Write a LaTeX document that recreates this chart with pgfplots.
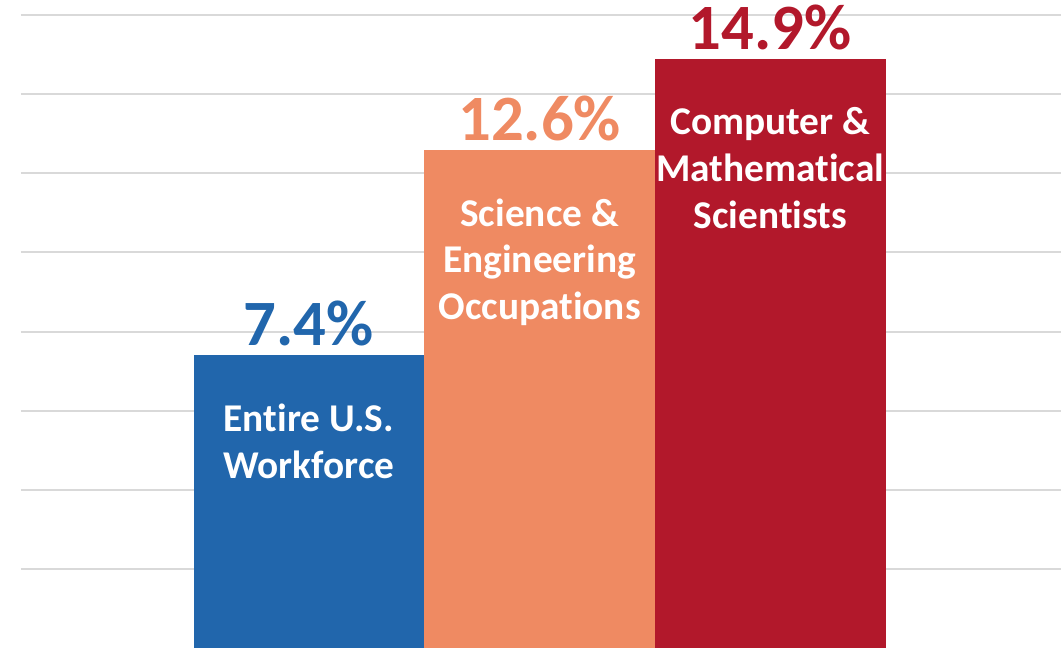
\documentclass[border=0pt]{standalone}
\usepackage{fontspec}
\setmainfont{Carlito}[Ligatures=NoCommon]
\usepackage{pgfplots}
\pgfplotsset{compat=1.18}
\definecolor{cblue}{RGB}{33,102,172}
\definecolor{csalmon}{RGB}{239,138,98}
\definecolor{cred}{RGB}{178,24,43}
\definecolor{cgrid}{RGB}{217,217,217}
\pgfplotsset{
  vallabel/.style={
    nodes near coords={\pgfmathprintnumber[fixed,precision=1,fixed zerofill,assume math mode=true]{\pgfplotspointmeta}\%},
    every node near coord/.append style={font=\fontsize{48.5}{58}\selectfont\bfseries, text=#1, anchor=base, yshift=7pt, inner sep=0pt}},
  inlabel/.style={draw=none, fill=none,
    every node near coord/.append style={font=\fontsize{29.5}{35.2}\selectfont\bfseries, text=white, align=center, anchor=north, yshift=-36.5pt, inner sep=0pt}},
}
\begin{document}
\begin{tikzpicture}
\begin{axis}[
  at={(0,0)}, anchor=south west,
  scale only axis, width=780pt, height=486pt,
  xmin=-1.248, xmax=3.26, ymin=0, ymax=16.38,
  ytick={2,4,...,16}, yticklabels={}, xtick=\empty,
  ymajorgrids, grid style={cgrid, line width=1.5pt},
  axis line style={draw=none}, tick style={draw=none},
  ybar, bar width=1, bar shift=0pt,
  clip=false,
]
\addplot[fill=cblue, draw=none, vallabel=cblue] coordinates {(0,7.4)};
\addplot[fill=csalmon, draw=none, vallabel=csalmon] coordinates {(1,12.6)};
\addplot[fill=cred, draw=none, vallabel=cred] coordinates {(2,14.9)};
\addplot[inlabel, nodes near coords={Entire U.S.\\Workforce}] coordinates {(0,7.4)};
\addplot[inlabel, nodes near coords={Science \&\\Engineering\\Occupations}] coordinates {(1,12.6)};
\addplot[inlabel, nodes near coords={Computer \&\\Mathematical\\Scientists}] coordinates {(2,14.9)};
\end{axis}
\pgfresetboundingbox
\path (-15.75pt,0pt) rectangle (780pt,486pt);
\end{tikzpicture}
\end{document}
